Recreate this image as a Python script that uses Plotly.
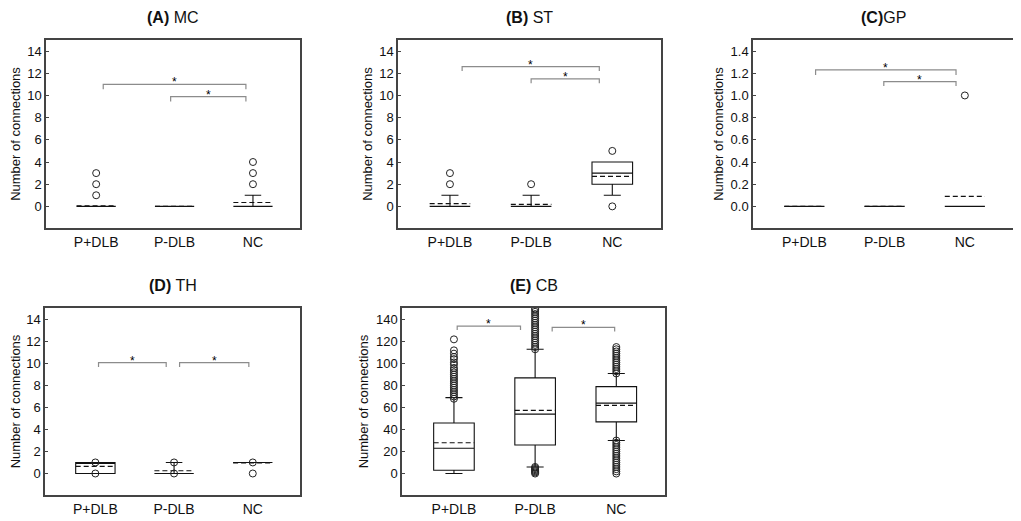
import plotly.graph_objects as go

groups = ['P+DLB', 'P-DLB', 'NC']

# (A) MC
mc_q1 = [0, 0, 0]
mc_median = [0, 0, 0]
mc_q3 = [0, 0, 0]
mc_low = [0, 0, 0]
mc_high = [0, 0, 1]
mc_mean = [0.04, 0, 0.35]
mc_outliers = [[1, 2, 3], [], [2, 3, 4]]

# (B) ST
st_q1 = [0, 0, 2]
st_median = [0, 0, 3]
st_q3 = [0, 0, 4]
st_low = [0, 0, 1]
st_high = [1, 1, 4]
st_mean = [0.25, 0.18, 2.7]
st_outliers = [[2, 3], [2], [5, 0]]

# (C) GP
gp_q1 = [0, 0, 0]
gp_median = [0, 0, 0]
gp_q3 = [0, 0, 0]
gp_low = [0, 0, 0]
gp_high = [0, 0, 0]
gp_mean = [0, 0, 0.09]
gp_outliers = [[], [], [1.0]]

# (D) TH
th_q1 = [0, 0, 1]
th_median = [1, 0, 1]
th_q3 = [1, 0, 1]
th_low = [0, 0, 1]
th_high = [1, 1, 1]
th_mean = [0.65, 0.25, 0.95]
th_outliers = [[0, 1], [0, 1], [1, 0]]

# (E) CB
cb_q1 = [3, 26, 47]
cb_median = [23, 54, 64]
cb_q3 = [46, 87, 79]
cb_low = [0, 6, 30]
cb_high = [69, 113, 91]
cb_mean = [28, 57.5, 62]
cb_outliers = [
    [68, 70, 72, 74, 76, 78, 80, 82, 84, 86, 88, 90, 92, 94, 96, 99, 101, 104, 106, 109, 112, 122],
    [0, 1, 2, 3, 4, 5, 6, 113, 115, 117, 119, 121, 123, 125, 127, 129, 131, 133, 135, 137, 139,
     141, 143, 145, 147, 149, 150],
    [0, 2, 4, 6, 8, 10, 12, 14, 16, 18, 20, 22, 24, 26, 28, 30,
     91, 93, 95, 97, 99, 101, 103, 105, 107, 109, 111, 113, 115],
]

# significance brackets: start, end, height, drop
mc_brackets = [(0.09, 1.91, 11.0, 0.45), (0.95, 1.91, 9.9, 0.45)]
st_brackets = [(0.15, 1.84, 12.6, 0.4), (1.0, 1.84, 11.5, 0.4)]
gp_brackets = [(0.14, 1.89, 1.23, 0.045), (0.99, 1.89, 1.125, 0.04)]
th_brackets = [(0.04, 0.9, 10.04, 0.38), (1.07, 1.95, 10.04, 0.38)]
cb_brackets = [(0.04, 0.82, 134, 3.6), (1.21, 1.98, 132.8, 3.6)]

# page body has an 8px margin, so the figure is laid out in the remaining area
OFF = 8
W, H = 1021 - OFF, 521 - OFF


def dom_x(left, right):
    return [(left - OFF) / W, (right - OFF) / W]


def dom_y(top, bottom):
    return [1 - (bottom - OFF) / H, 1 - (top - OFF) / H]


panels = [
    dict(title='<b>(A)</b> MC', q1=mc_q1, med=mc_median, q3=mc_q3, lo=mc_low, hi=mc_high,
         mean=mc_mean, out=mc_outliers, br=mc_brackets, yr=[-1.95, 15], dt=2, fmt='d',
         xd=dom_x(46, 300), yd=dom_y(40, 228), ty=17),
    dict(title='<b>(B)</b> ST', q1=st_q1, med=st_median, q3=st_q3, lo=st_low, hi=st_high,
         mean=st_mean, out=st_outliers, br=st_brackets, yr=[-1.95, 15], dt=2, fmt='d',
         xd=dom_x(398, 661), yd=dom_y(40, 228), ty=17),
    dict(title='<b>(C)</b>GP', q1=gp_q1, med=gp_median, q3=gp_q3, lo=gp_low, hi=gp_high,
         mean=gp_mean, out=gp_outliers, br=gp_brackets, yr=[-0.195, 1.5], dt=0.2, fmt='.1f',
         xd=dom_x(753, 1013), yd=dom_y(40, 228), ty=17),
    dict(title='<b>(D)</b> TH', q1=th_q1, med=th_median, q3=th_q3, lo=th_low, hi=th_high,
         mean=th_mean, out=th_outliers, br=th_brackets, yr=[-1.95, 15], dt=2, fmt='d',
         xd=dom_x(45, 300), yd=dom_y(308, 495), ty=285),
    dict(title='<b>(E)</b> CB', q1=cb_q1, med=cb_median, q3=cb_q3, lo=cb_low, hi=cb_high,
         mean=cb_mean, out=cb_outliers, br=cb_brackets, yr=[-19.5, 150.5], dt=20, fmt='d',
         xd=dom_x(402, 665), yd=dom_y(308, 495), ty=285),
]

FONT = 'Arial, Liberation Sans, sans-serif'
BOX_W = 0.5
fig = go.Figure()
layout = {}
annotations = []

for k, p in enumerate(panels, start=1):
    xa = 'x' if k == 1 else f'x{k}'
    ya = 'y' if k == 1 else f'y{k}'
    pos = list(range(len(groups)))

    fig.add_trace(go.Box(
        x=pos, q1=p['q1'], median=p['med'], q3=p['q3'],
        lowerfence=p['lo'], upperfence=p['hi'],
        boxpoints=False, width=BOX_W, whiskerwidth=0.42,
        line=dict(color='#111111', width=1.1), fillcolor='rgba(0,0,0,0)',
        xaxis=xa, yaxis=ya, showlegend=False, hoverinfo='skip'))

    # dashed mean lines
    mx, my = [], []
    for i, m in enumerate(p['mean']):
        mx += [i - BOX_W / 2, i + BOX_W / 2, None]
        my += [m, m, None]
    fig.add_trace(go.Scatter(x=mx, y=my, mode='lines', xaxis=xa, yaxis=ya, showlegend=False,
                             line=dict(color='#111111', width=1.2, dash='5px,3px')))

    ox, oy = [], []
    for i, vals in enumerate(p['out']):
        ox += [i] * len(vals)
        oy += vals
    fig.add_trace(go.Scatter(
        x=ox, y=oy, mode='markers', xaxis=xa, yaxis=ya, showlegend=False,
        marker=dict(symbol='circle-open', size=7, color='#222222', line=dict(width=1))))

    bx, by = [], []
    for x0, x1, h, d in p['br']:
        bx += [x0, x0, x1, x1, None]
        by += [h - d, h, h, h - d, None]
        annotations.append(dict(x=(x0 + x1) / 2, y=h, xref=xa, yref=ya, text='*',
                                showarrow=False, yanchor='middle', yshift=2,
                                font=dict(size=12, color='#000000', family=FONT)))
    fig.add_trace(go.Scatter(x=bx, y=by, mode='lines', xaxis=xa, yaxis=ya, showlegend=False,
                             line=dict(color='#8c8c8c', width=1.2)))

    n = int(p['yr'][1] / p['dt'] + 1e-9)
    tv = [round(j * p['dt'], 2) for j in range(n + 1)]
    tv = [t for t in tv if t <= p['yr'][1] - 0.2 * p['dt']]

    key = k if k > 1 else ''
    layout[f'xaxis{key}'] = dict(
        domain=p['xd'], anchor=ya, range=[-0.64, 2.6], tickvals=pos, ticktext=groups,
        showline=True, mirror=True, linecolor='#444444', linewidth=1.5, ticks='',
        showgrid=False, zeroline=False, automargin=False,
        tickfont=dict(size=14, color='#111', family=FONT))
    layout[f'yaxis{key}'] = dict(
        domain=p['yd'], anchor=xa, range=p['yr'], tickvals=tv,
        tickformat=p['fmt'], showline=True, mirror=True, linecolor='#444444', linewidth=1.5,
        ticks='inside', ticklen=3, tickcolor='#444444', showgrid=False, zeroline=False,
        automargin=False, tickfont=dict(size=13, color='#111', family=FONT),
        title=dict(text='Number of connections', standoff=4,
                   font=dict(size=13, color='#111', family=FONT)))

    annotations.append(dict(x=sum(p['xd']) / 2, y=1 - (p['ty'] - OFF) / H,
                            xref='paper', yref='paper', text=p['title'], showarrow=False,
                            xanchor='center', yanchor='middle',
                            font=dict(size=16, color='#111', family=FONT)))

fig.update_layout(**layout)
fig.update_layout(
    width=W, height=H, margin=dict(l=0, r=0, t=0, b=0),
    template='simple_white', plot_bgcolor='white', paper_bgcolor='white',
    annotations=annotations, showlegend=False)

fig.write_html("out.html")
